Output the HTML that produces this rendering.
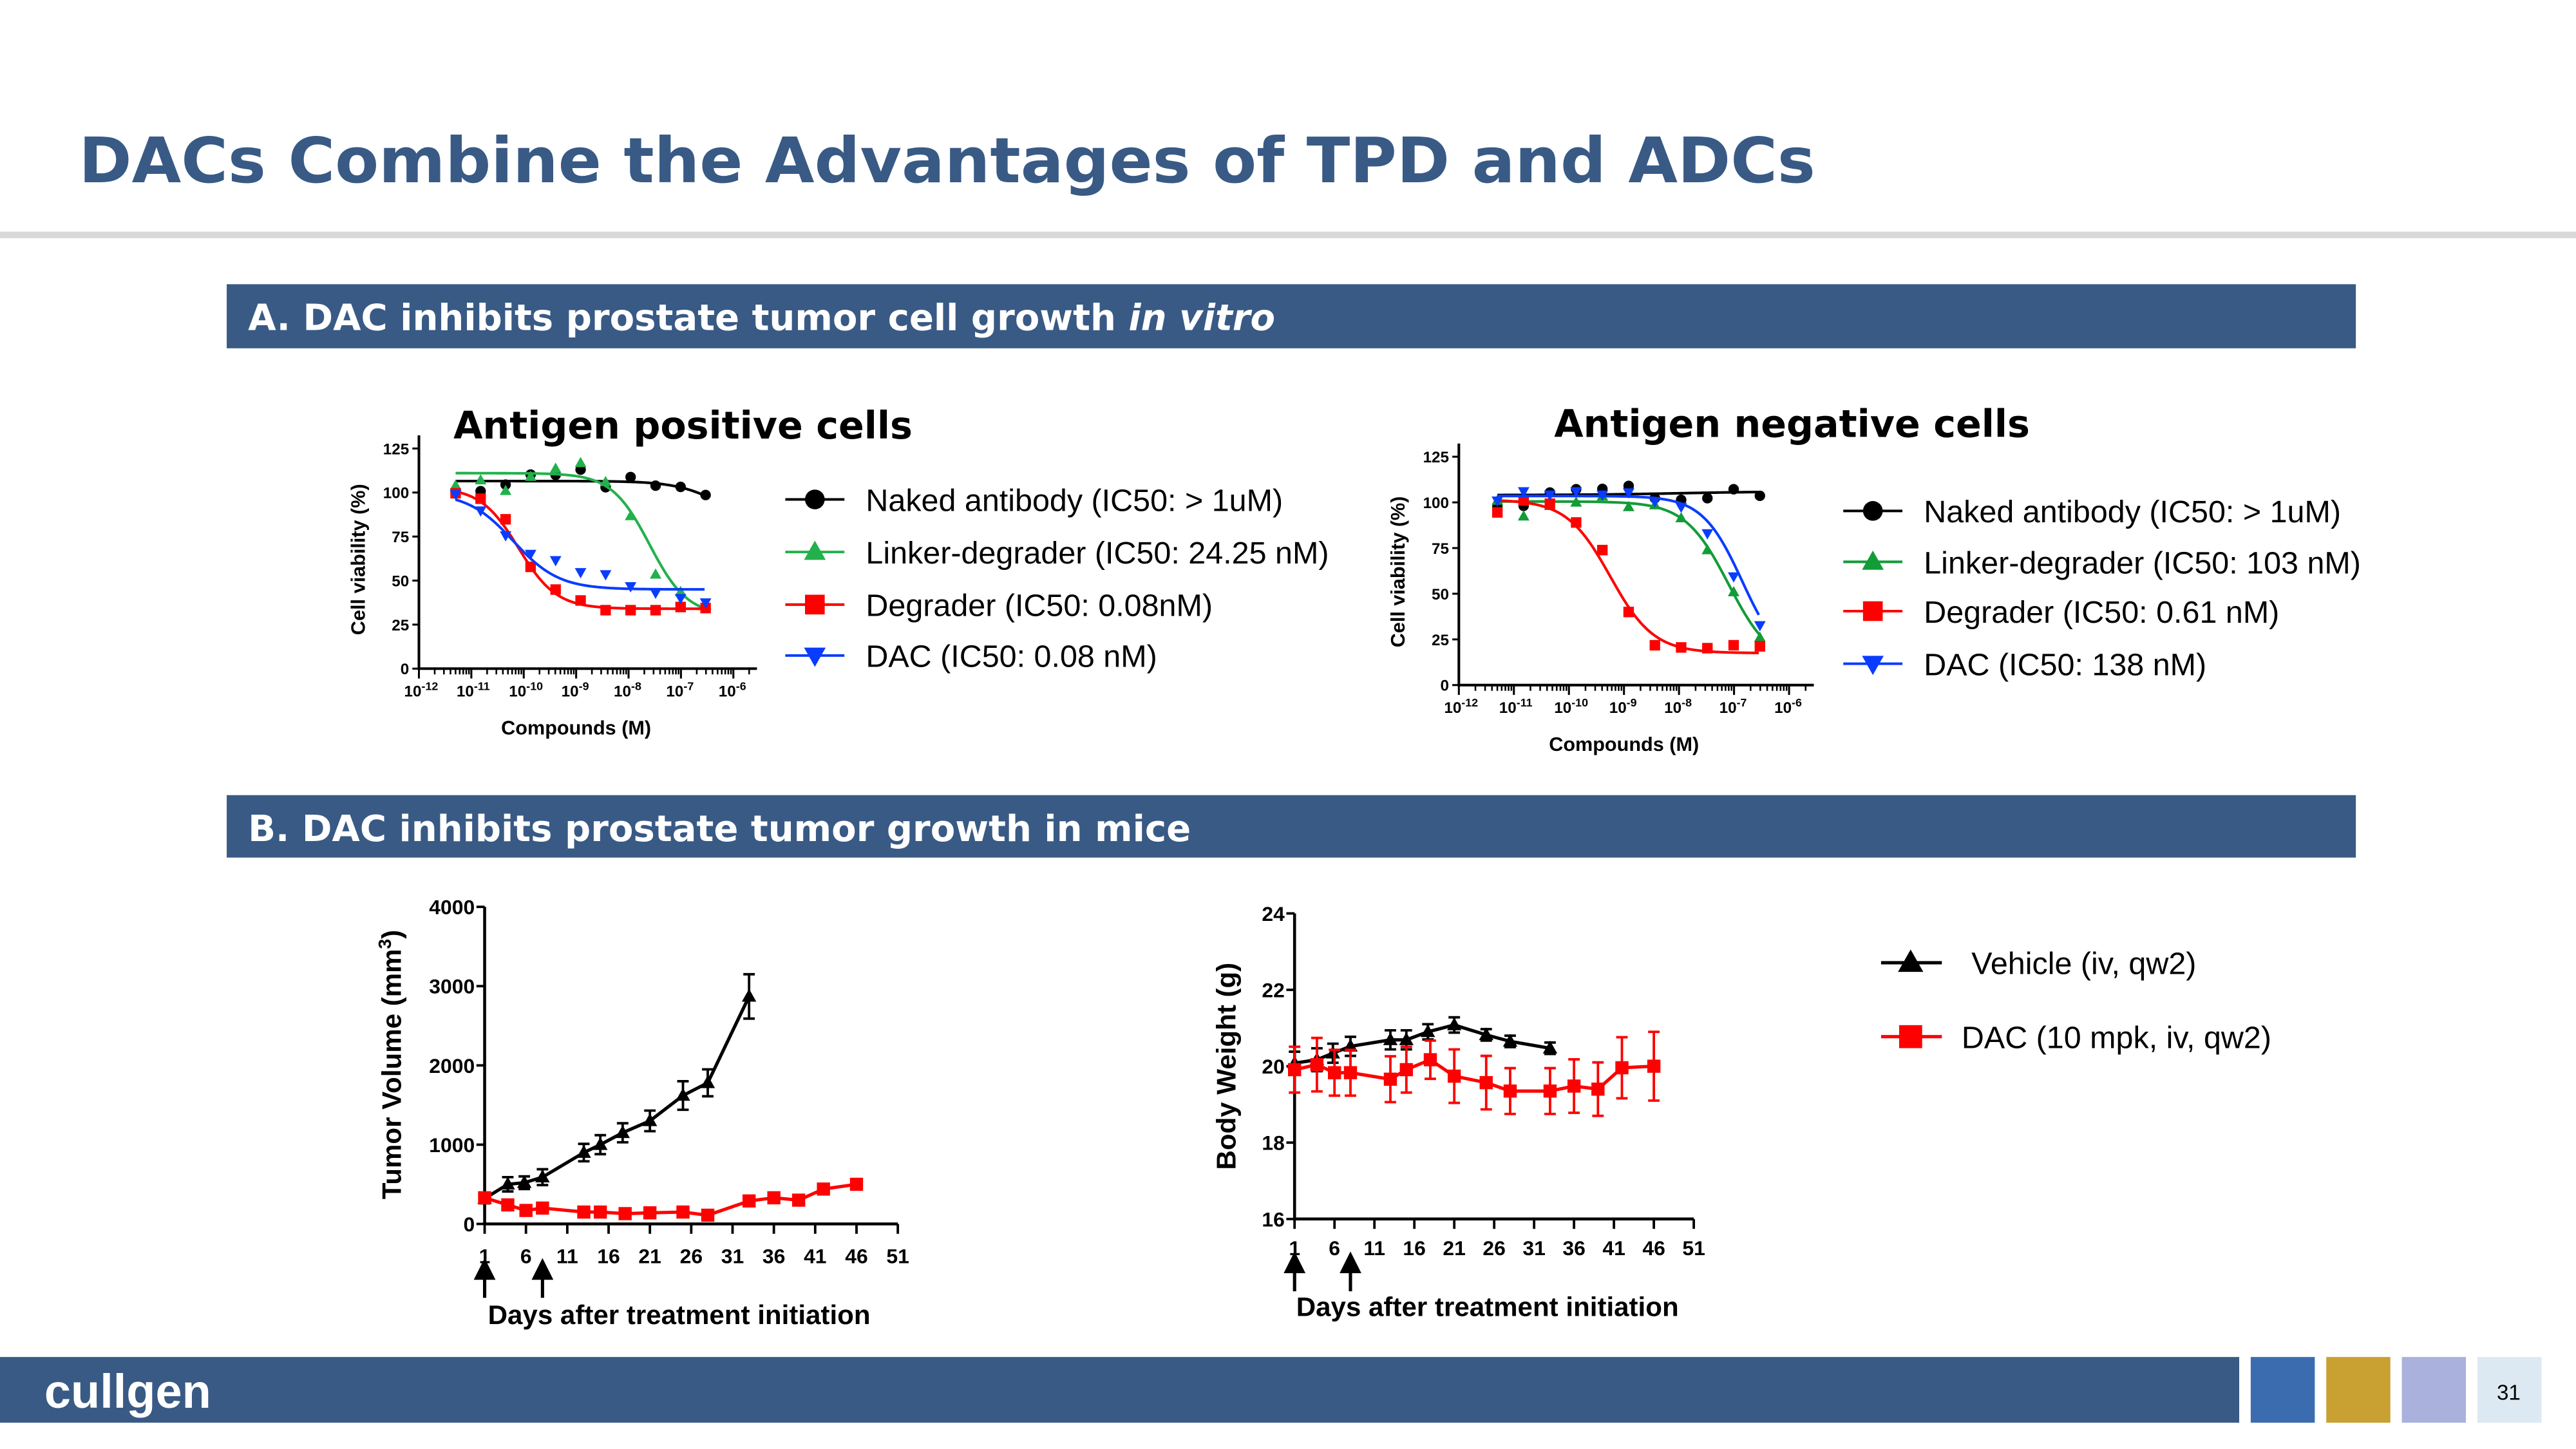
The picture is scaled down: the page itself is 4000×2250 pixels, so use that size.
<!DOCTYPE html>
<html><head><meta charset="utf-8"><style>
html,body{margin:0;padding:0;background:#fff;}
svg{display:block;}
text{font-family:"Liberation Sans",Arial,sans-serif;}
.v{font-family:"DejaVu Sans","Liberation Sans",sans-serif;font-weight:bold;}
</style></head><body>
<svg id="s" xmlns="http://www.w3.org/2000/svg" width="4000" height="2250" viewBox="0 0 1568 882">
<rect x="0" y="0" width="1568" height="882" fill="#fff"/>
<text class="v" x="48" y="111" font-size="38" fill="#385a85" textLength="1057" lengthAdjust="spacingAndGlyphs">DACs Combine the Advantages of TPD and ADCs</text>
<rect x="0" y="141" width="1568" height="4" fill="#d9d9d9"/>
<rect x="138" y="173" width="1296" height="39" fill="#385a85"/>
<text class="v" x="151" y="201" font-size="22" fill="#fff">A. DAC inhibits prostate tumor cell growth <tspan font-style="italic">in vitro</tspan></text>
<rect x="138" y="484" width="1296" height="38" fill="#385a85"/>
<text class="v" x="151" y="512" font-size="22" fill="#fff">B. DAC inhibits prostate tumor growth in mice</text>
<text class="v" x="276" y="267" font-size="23" fill="#000">Antigen positive cells</text>
<text class="v" x="946" y="266" font-size="23" fill="#000">Antigen negative cells</text>
<rect x="0" y="826" width="1363" height="40" fill="#385a85"/>
<text x="27" y="857" font-size="29" font-weight="bold" fill="#fff">cullgen</text>
<rect x="1370" y="826" width="39" height="40" fill="#3c6cb0"/>
<rect x="1416" y="826" width="39" height="40" fill="#c9a032"/>
<rect x="1462" y="826" width="39" height="40" fill="#a9b1dc"/>
<rect x="1508" y="826" width="39" height="40" fill="#dde9f2"/>
<text x="1527" y="852" font-size="13" text-anchor="middle" fill="#000">31</text>
</svg>
<script>
// ---- data: in vitro dose response (log10 M concentrations shared) ----
const doseLogs = [-11.3,-10.823,-10.346,-9.869,-9.392,-8.915,-8.438,-7.961,-7.484,-7.007,-6.53];
const posNaked = [100.4,100.8,104.5,110.2,110,113,103,108.8,103.9,103.2,98.6];
const posLinker = [104,107,101,109,113.6,116.8,106,86.7,53.5,43.6,36];
const posDegrader = [99.6,96.5,84.8,57.8,44.9,38.7,33.2,33.2,33.2,35,34.4];
const posDAC = [99,89.7,75.6,65.1,61.5,54.7,53.5,46.7,43,40,37.5];
const negNaked = [97.5,98.1,105.4,107.2,107.4,109,102.3,101.4,102.3,107.2,103.6];
const negLinker = [101,92.4,98.1,100,103.3,97.5,98.5,91.4,73.9,50.9,26];
const negDegrader = [94.5,101,99.3,89,73.9,40,21.8,20.6,20.2,21.8,21.2];
const negDAC = [100.9,106,104.2,106,104.2,105.4,100.5,97.5,83,59.4,32.7];
// 4PL fit params: top, bottom, logIC50, hill
const posNakedFit = [106.5,80,-6.2,1];
const posLinkerFit = [111,30,-7.6,1.2];
const posDegraderFit = [103,34,-10.1,1.2];
const posDACFit = [100,45,-10.2,1];
const negNakedFit = [104,106,-8,0.5];
const negLinkerFit = [100.5,10,-7.1,1.1];
const negDegraderFit = [101.5,17.5,-9.25,1.1];
const negDACFit = [103.5,10,-6.85,1.2];
const viabTicks = [0,25,50,75,100,125];
const decadeTicks = [-12,-11,-10,-9,-8,-7,-6];
const pctLegend = ["Naked antibody (IC50: > 1uM)","Linker-degrader (IC50: 24.25 nM)","Degrader (IC50: 0.08nM)","DAC (IC50: 0.08 nM)"];
const negLegend = ["Naked antibody (IC50: > 1uM)","Linker-degrader (IC50: 103 nM)","Degrader (IC50: 0.61 nM)","DAC (IC50: 138 nM)"];
// ---- data: in vivo ----
const vehDays = [1,3.8,5.8,8,13,15,17.7,21,25,28,33];
const vehTumor = [320,500,520,590,900,1000,1150,1300,1620,1780,2870];
const vehTumorErr = [60,90,80,100,110,120,120,130,180,170,280];
const dacDays = [1,3.8,6,8,13,15,18,21,25,28,33,36,39,42,46];
const dacTumor = [330,240,170,200,150,150,130,140,150,110,290,330,300,440,500];
const dacTumorErr = [40,30,30,30,20,20,20,20,20,20,30,30,30,40,40];
const vehWeight = [20.08,20.17,20.34,20.52,20.69,20.69,20.9,21.08,20.82,20.65,20.47];
const vehWeightErr = [0.3,0.3,0.25,0.25,0.25,0.25,0.2,0.2,0.15,0.15,0.15];
const dacWeight = [19.91,20.04,19.83,19.83,19.66,19.91,20.17,19.74,19.57,19.35,19.35,19.48,19.4,19.96,20.0];
const dacWeightErr = [0.6,0.7,0.6,0.6,0.6,0.6,0.5,0.7,0.7,0.6,0.6,0.7,0.7,0.8,0.9];
const tumorTicks = [0,1000,2000,3000,4000];
const weightTicks = [16,18,20,22,24];
const dayTicks = [1,6,11,16,21,26,31,36,41,46,51];

const NS="http://www.w3.org/2000/svg";
const svg=document.getElementById('s');
function mk(tag,attrs,parent){const e=document.createElementNS(NS,tag);for(const k in attrs)e.setAttribute(k,attrs[k]);(parent||svg).appendChild(e);return e;}
function marker(g,type,x,y,r,color){
  let e;
  if(type==='circle') e=mk('circle',{cx:x,cy:y,r:r,fill:color},g);
  else if(type==='up') e=mk('polygon',{points:`${x},${y-r*1.15} ${x-r*1.1},${y+r*0.8} ${x+r*1.1},${y+r*0.8}`,fill:color},g);
  else if(type==='down') e=mk('polygon',{points:`${x},${y+r*1.15} ${x-r*1.1},${y-r*0.8} ${x+r*1.1},${y-r*0.8}`,fill:color},g);
  else e=mk('rect',{x:x-r,y:y-r,width:2*r,height:2*r,fill:color},g);
  return e;
}
function fpl(p,x){return p[1]+(p[0]-p[1])/(1+Math.pow(10,p[3]*(x-p[2])));}

function doseChart(o){
  const g=mk('g',{});
  
  
  const X=v=>o.x0+(v+12)*o.dec, Y=v=>o.y0-v*o.yk;
  const ax=mk('path',{d:`M${o.x0},${Y(125)-8}V${o.y0}H${X(-5.55)}`,stroke:'#000','stroke-width':1.6,fill:'none'},g);
  
  
  viabTicks.forEach(t=>{
    mk('line',{x1:o.x0-4,x2:o.x0,y1:Y(t),y2:Y(t),stroke:'#000','stroke-width':1.2},g);
    const tl=mk('text',{x:o.x0-6,y:Y(t)+3.5,'font-size':9.5,'font-weight':'bold','text-anchor':'end'},g);
    tl.textContent=t;
    
    
  });
  for(let d=-12;d<-5;d++){
    mk('line',{x1:X(d),x2:X(d),y1:o.y0,y2:o.y0+6,stroke:'#000','stroke-width':1.2},g);
    if(d<-6||true){for(let m=2;m<10;m++){const v=d+Math.log10(m);if(v>-5.55)break;mk('line',{x1:X(v),x2:X(v),y1:o.y0,y2:o.y0+3.5,stroke:'#000','stroke-width':1},g);}}
  }
  decadeTicks.forEach(d=>{
    const tl=mk('text',{x:X(d)-9,y:o.y0+17,'font-size':9.5,'font-weight':'bold'},g);
    tl.innerHTML='10<tspan dy="-4" font-size="7">'+d+'</tspan>';
    
    
  });
  const yt=mk('text',{x:0,y:0,'font-size':12,'font-weight':'bold','text-anchor':'middle',transform:`translate(${o.x0-33},${Y(62)}) rotate(-90)`},g);
  yt.textContent='Cell viability (%)';
  
  
  const xt=mk('text',{x:X(-9),y:o.y0+40,'font-size':12,'font-weight':'bold','text-anchor':'middle'},g);
  xt.textContent='Compounds (M)';
  
  
  o.series.forEach(s=>{
    let d='';
    for(let v=doseLogs[0];v<=doseLogs[doseLogs.length-1]+0.001;v+=0.05){d+=(d?'L':'M')+X(v).toFixed(2)+','+Y(fpl(s.fit,v)).toFixed(2);}
    const c=mk('path',{d:d,stroke:s.color,'stroke-width':1.6,fill:'none'},g);
    
    
    s.vals.forEach((v,i)=>{
      const m=marker(g,s.type,X(doseLogs[i]),Y(v),3.2,s.color);
      
      
    });
  });
  o.series.forEach((s,i)=>{
    const ly=o.ly[i];
    mk('line',{x1:o.lx,x2:o.lx+36,y1:ly,y2:ly,stroke:s.color,'stroke-width':1.6},g);
    const m=marker(g,s.type,o.lx+18,ly,6,s.color);
    
    
    const t=mk('text',{x:o.lx+49,y:ly+7,'font-size':19},g);
    t.textContent=o.legend[i];
    
    
  });
}
doseChart({name:'antigen-positive-chart',x0:255,y0:407,dec:31.9,yk:134/125,lx:478,ly:[304,336,368,399],legend:pctLegend,series:[
 {key:'naked-antibody',color:'#000',type:'circle',vals:posNaked,fit:posNakedFit},
 {key:'linker-degrader',color:'#22b14c',type:'up',vals:posLinker,fit:posLinkerFit},
 {key:'degrader',color:'#ff0000',type:'square',vals:posDegrader,fit:posDegraderFit},
 {key:'dac',color:'#0a3cff',type:'down',vals:posDAC,fit:posDACFit}]});
doseChart({name:'antigen-negative-chart',x0:888,y0:417,dec:33.5,yk:139/125,lx:1122,ly:[311,342,372,404],legend:negLegend,series:[
 {key:'naked-antibody',color:'#000',type:'circle',vals:negNaked,fit:negNakedFit},
 {key:'linker-degrader',color:'#129c38',type:'up',vals:negLinker,fit:negLinkerFit},
 {key:'degrader',color:'#ff0000',type:'square',vals:negDegrader,fit:negDegraderFit},
 {key:'dac',color:'#0a3cff',type:'down',vals:negDAC,fit:negDACFit}]});

function dayChart(o){
  const g=mk('g',{});
  
  
  const X=d=>o.x0+(d-1)*o.dk, Y=v=>o.y0-(v-o.ymin)*o.yk;
  const ax=mk('path',{d:`M${o.x0},${Y(o.ymax)}V${o.y0}H${X(51)}`,stroke:'#000','stroke-width':1.8,fill:'none'},g);
  
  
  o.yticks.forEach(t=>{
    mk('line',{x1:o.x0-5,x2:o.x0,y1:Y(t),y2:Y(t),stroke:'#000','stroke-width':1.5},g);
    const tl=mk('text',{x:o.x0-6,y:Y(t)+4.5,'font-size':12.5,'font-weight':'bold','text-anchor':'end'},g);
    tl.textContent=t;
    
    
  });
  dayTicks.forEach(t=>{
    mk('line',{x1:X(t),x2:X(t),y1:o.y0,y2:o.y0+6,stroke:'#000','stroke-width':1.5},g);
    const tl=mk('text',{x:X(t),y:o.y0+o.tly,'font-size':12.5,'font-weight':'bold','text-anchor':'middle'},g);
    tl.textContent=t;
    
    
  });
  const yt=mk('text',{x:0,y:0,'font-size':16.5,'font-weight':'bold','text-anchor':'middle',transform:`translate(${o.ytx},${o.yty}) rotate(-90)`},g);
  yt.innerHTML=o.ytitle;
  
  
  const xt=mk('text',{x:o.xtx,y:o.xty,'font-size':16.5,'font-weight':'bold'},g);
  xt.textContent='Days after treatment initiation';
  
  
  [1,8].forEach(d=>{
    const a=mk('path',{d:`M${X(d)},${o.ay+22}V${o.ay+8}M${X(d)-5},${o.ay+10}L${X(d)},${o.ay}L${X(d)+5},${o.ay+10}Z`,stroke:'#000','stroke-width':2,fill:'#000'},g);
    
    
  });
  o.series.forEach(s=>{
    const pts=s.days.map((d,i)=>X(d)+','+Y(s.vals[i])).join(' ');
    const l=mk('polyline',{points:pts,stroke:s.color,'stroke-width':2,fill:'none'},g);
    
    
    s.days.forEach((d,i)=>{
      const x=X(d),y1=Y(s.vals[i]+s.err[i]),y2=Y(s.vals[i]-s.err[i]);
      const e=mk('path',{d:`M${x},${y1}V${y2}M${x-3.5},${y1}H${x+3.5}M${x-3.5},${y2}H${x+3.5}`,stroke:s.color,'stroke-width':1.5,fill:'none'},g);
      
      
      const m=marker(g,s.type,x,Y(s.vals[i]),4,s.color);
      
      
    });
  });
}
dayChart({name:'tumor-volume-chart',x0:295,y0:745,dk:5.03,ymin:0,ymax:4000,yk:193/4000,yticks:tumorTicks,tly:24,ytitle:'Tumor Volume (mm<tspan dy="-6" font-size="11">3</tspan><tspan dy="6">)</tspan>',ytx:244,yty:648,xtx:297,xty:806,ay:768,series:[
 {key:'vehicle',color:'#000',type:'up',days:vehDays,vals:vehTumor,err:vehTumorErr},
 {key:'dac',color:'#ff0000',type:'square',days:dacDays,vals:dacTumor,err:dacTumorErr}]});
dayChart({name:'body-weight-chart',x0:788,y0:742,dk:4.86,ymin:16,ymax:24,yk:186/8,yticks:weightTicks,tly:22,ytitle:'Body Weight (g)',ytx:752,yty:649,xtx:789,xty:801,ay:764,series:[
 {key:'vehicle',color:'#000',type:'up',days:vehDays,vals:vehWeight,err:vehWeightErr},
 {key:'dac',color:'#ff0000',type:'square',days:dacDays,vals:dacWeight,err:dacWeightErr}]});

// in vivo legend
const lg=mk('g',{});


[['#000','up','Vehicle (iv, qw2)',586,1200],['#ff0000','square','DAC (10 mpk, iv, qw2)',631,1194]].forEach(r=>{
  mk('line',{x1:1145,x2:1182,y1:r[3],y2:r[3],stroke:r[0],'stroke-width':2},lg);
  const m=marker(lg,r[1],1163,r[3],7,r[0]);
  
  
  const t=mk('text',{x:r[4],y:r[3]+7,'font-size':19},lg);
  t.textContent=r[2];
  
  
});
</script>
</body></html>
